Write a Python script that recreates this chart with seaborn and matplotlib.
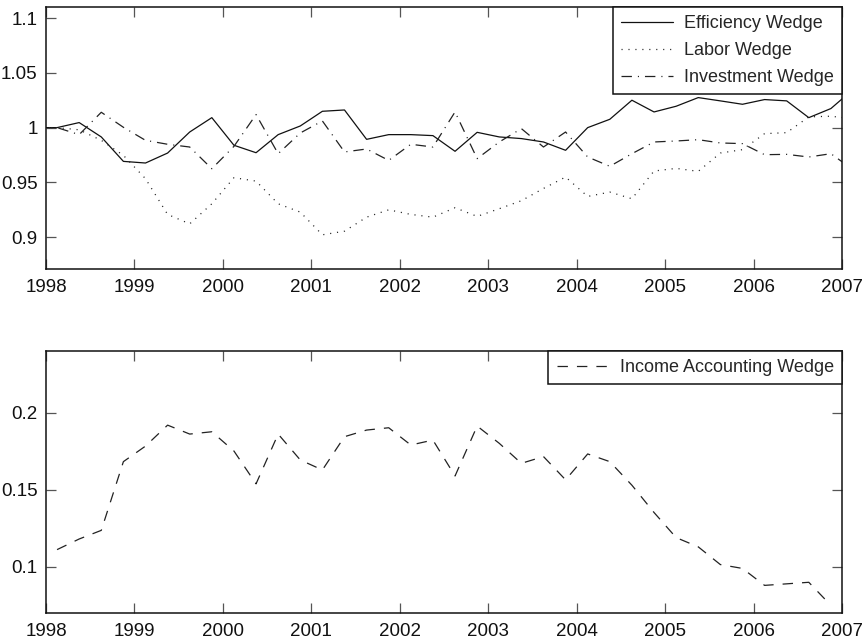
import numpy as np
import pandas as pd
import seaborn as sns
import matplotlib.pyplot as plt

# quarterly series, plotted at mid-quarter
top_quarters = pd.period_range("1997Q4", "2007Q1", freq="Q")
bottom_quarters = pd.period_range("1998Q1", "2006Q4", freq="Q")

efficiency = [1.000, 1.000, 1.0046, 0.9915, 0.9692, 0.9677, 0.9768, 0.9960, 1.0091,
              0.9839, 0.9771, 0.9936, 1.0015, 1.0149, 1.0161, 0.9893, 0.9936, 0.9936,
              0.9927, 0.9784, 0.9957, 0.9915, 0.9900, 0.9869, 0.9793, 1.0000, 1.0076,
              1.0250, 1.0143, 1.0195, 1.0274, 1.0244, 1.0213, 1.0256, 1.0244, 1.0091,
              1.0174, 1.0348]
labor = [1.000, 1.000, 0.9980, 0.9884, 0.9747, 0.9534, 0.9208, 0.9122, 0.9305,
         0.9543, 0.9512, 0.9305, 0.9229, 0.9022, 0.9055, 0.9183, 0.9250, 0.9208,
         0.9183, 0.9269, 0.9190, 0.9260, 0.9333, 0.9445, 0.9549, 0.9372, 0.9412,
         0.9351, 0.9604, 0.9628, 0.9601, 0.9768, 0.9799, 0.9945, 0.9954, 1.0098,
         1.0104, 1.0080]
investment = [1.000, 1.000, 0.9936, 1.0140, 1.0003, 0.9884, 0.9848, 0.9823, 0.9625,
              0.9829, 1.0119, 0.9762, 0.9951, 1.0061, 0.9778, 0.9805, 0.9701, 0.9848,
              0.9823, 1.0143, 0.9717, 0.9869, 0.9991, 0.9823, 0.9960, 0.9732, 0.9647,
              0.9762, 0.9869, 0.9878, 0.9890, 0.9860, 0.9854, 0.9753, 0.9756, 0.9732,
              0.9762, 0.9616]
income_accounting = [0.1112, 0.1181, 0.1237, 0.1683, 0.1784, 0.1920, 0.1862, 0.1877,
                     0.1752, 0.1539, 0.1862, 0.1694, 0.1629, 0.1845, 0.1888, 0.1903,
                     0.1791, 0.1823, 0.1590, 0.1914, 0.1802, 0.1672, 0.1716, 0.1565,
                     0.1733, 0.1683, 0.1530, 0.1353, 0.1190, 0.1130, 0.1015, 0.0990,
                     0.0880, 0.0890, 0.0900, 0.0750]

year_ticks = list(range(1998, 2008))
top_yticks = [0.9, 0.95, 1.0, 1.05, 1.1]
top_ylabels = ["0.9", "0.95", "1", "1.05", "1.1"]
bottom_yticks = [0.1, 0.15, 0.2]
bottom_ylabels = ["0.1", "0.15", "0.2"]


def mid_quarter(periods):
    return periods.year + (periods.quarter - 1) / 4 + 0.125


sns.set_style("ticks")
plt.rcParams["font.family"] = ["Liberation Sans", "DejaVu Sans"]
plt.rcParams["lines.scale_dashes"] = False

fig = plt.figure(figsize=(8.68, 6.42), dpi=100)
ax1 = fig.add_axes([0.053, 0.581, 0.917, 0.408])
ax2 = fig.add_axes([0.053, 0.045, 0.917, 0.408])

top = pd.DataFrame({
    "x": mid_quarter(top_quarters),
    "Efficiency Wedge": efficiency,
    "Labor Wedge": labor,
    "Investment Wedge": investment,
})
bottom = pd.DataFrame({"x": mid_quarter(bottom_quarters), "Income Accounting Wedge": income_accounting})

sns.lineplot(data=top, x="x", y="Efficiency Wedge", ax=ax1, color="#111111",
             linewidth=0.9, linestyle="-", label="Efficiency Wedge")
sns.lineplot(data=top, x="x", y="Labor Wedge", ax=ax1, color="#222222",
             linewidth=0.9, linestyle=(0, (0.8, 4.2)), label="Labor Wedge")
sns.lineplot(data=top, x="x", y="Investment Wedge", ax=ax1, color="#222222",
             linewidth=0.9, linestyle=(0, (7.5, 4.3, 0.8, 4.3)), label="Investment Wedge")
sns.lineplot(data=bottom, x="x", y="Income Accounting Wedge", ax=ax2, color="#222222",
             linewidth=0.9, linestyle=(0, (7.5, 6.5)), label="Income Accounting Wedge")

ax1.set_ylim(0.871, 1.11)
ax1.set_yticks(top_yticks)
ax1.set_yticklabels(top_ylabels)
ax2.set_ylim(0.07, 0.24)
ax2.set_yticks(bottom_yticks)
ax2.set_yticklabels(bottom_ylabels)

for ax in (ax1, ax2):
    ax.set_xlim(1998, 2007)
    ax.set_xticks(year_ticks)
    ax.set_xticklabels([str(y) for y in year_ticks])
    ax.set_xlabel("")
    ax.set_ylabel("")
    ax.tick_params(direction="in", length=7, width=0.9, color="#555555",
                   labelsize=13.5, labelcolor="#111111", top=True, right=True, pad=6)
    ax.tick_params(axis="x", pad=7)
    for side in ax.spines.values():
        side.set_visible(True)
        side.set_color("#111111")
        side.set_linewidth(1.1)
    leg = ax.legend(loc="upper right", fontsize=13, frameon=True, fancybox=False,
                    borderaxespad=0, handlelength=2.9, handletextpad=0.6,
                    borderpad=0.45, labelspacing=0.55)
    leg.get_frame().set_edgecolor("#111111")
    leg.get_frame().set_linewidth(1.1)
    leg.get_frame().set_alpha(1)

fig.savefig("out.png", dpi=100)
